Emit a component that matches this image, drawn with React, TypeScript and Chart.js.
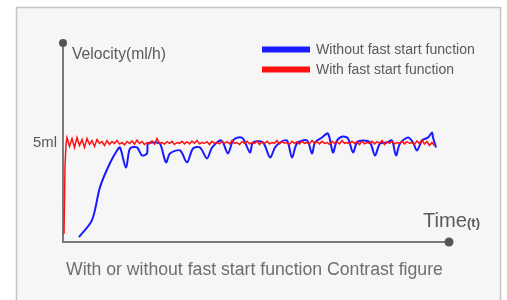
import React, { useEffect, useRef } from "react";
import { Chart, registerables } from "chart.js";

Chart.register(...registerables);

// ---- data (time units, velocity in ml/h) ----
const xMax = 386;
const yMax = 10;
const targetLabel = "5ml";
const targetValue = 5;

const blueT = [16, 29, 37, 47, 54, 57, 63, 67, 74, 79, 84, 85, 92, 97, 103, 107, 117, 124, 130, 137, 144, 149, 157, 160, 165, 170, 175, 180, 187, 190, 200, 207, 212, 217, 224, 229, 234, 244, 249, 252, 259, 265, 270, 274, 280, 285, 290, 294, 300, 307, 312, 317, 324, 329, 333, 337, 345, 350, 354, 359, 365, 369, 370, 373];
const blueV = [0.25, 1.1, 2.76, 3.97, 4.6, 4.75, 3.74, 4.7, 4.75, 4.35, 4.45, 4.95, 5.0, 4.95, 4.0, 4.45, 4.6, 4.0, 4.7, 4.75, 4.2, 4.75, 5.1, 5.0, 4.45, 5.1, 5.25, 5.2, 4.5, 5.0, 5.0, 4.25, 4.75, 5.0, 5.1, 4.25, 4.95, 5.1, 4.45, 5.0, 5.25, 5.45, 4.5, 5.1, 5.3, 5.2, 4.5, 5.0, 5.1, 5.0, 4.35, 4.95, 5.0, 5.1, 4.35, 4.95, 5.25, 5.0, 4.6, 5.1, 5.25, 5.5, 5.25, 4.75];

const redHeadT = [1, 2, 3];
const redHeadV = [0.4, 3.8, 4.9];
const redStart = 4;
const redStep = 2.5;
const redV = [
  5.25, 4.8, 5.2, 4.75, 5.25, 4.85, 5.15, 4.75, 5.2, 4.9, 5.1, 4.8, 5.15, 4.95, 5.05, 4.85, 5.1, 4.9, 5.05, 4.95,
  5.1, 4.92, 5.0, 4.88, 5.05, 4.95, 5.08, 4.92, 5.12, 4.95, 5.05, 4.9, 5.0, 4.95, 5.08, 4.92, 5.2, 4.95, 5.0, 4.92,
  5.04, 4.96, 5.06, 4.9, 5.0, 4.96, 5.06, 4.93, 5.04, 4.93, 5.07, 4.96, 5.1, 4.93, 5.0, 4.96, 5.04, 4.9, 5.06, 4.96,
  5.0, 4.93, 5.06, 4.96, 5.04, 4.93, 5.1, 4.96, 5.0, 4.9, 5.04, 4.96, 5.06, 4.93, 5.0, 4.96, 5.07, 4.9, 5.04, 4.96,
  5.06, 4.93, 5.0, 4.96, 5.1, 4.93, 5.04, 4.96, 5.0, 4.9, 5.06, 4.96, 5.04, 4.93, 5.06, 4.96, 5.0, 4.93, 5.1, 4.96,
  5.04, 4.93, 5.06, 4.96, 5.0, 4.9, 5.06, 4.96, 5.04, 4.93, 5.1, 4.96, 5.0, 4.93, 5.06, 4.96, 5.04, 4.9, 5.06, 4.93,
  5.0, 4.96, 5.06, 4.93, 5.04, 4.96, 5.1, 4.9, 5.04, 4.96, 5.06, 4.93, 5.0, 4.96, 5.06, 4.93, 5.04, 4.96, 5.0, 4.9,
  5.08, 4.95, 5.12, 4.92, 5.05, 4.85, 5.0, 4.85,
];

const seriesNames = ["Without fast start function", "With fast start function"];
const seriesColors = ["#1a1aff", "#ff1010"];
const yTitle = "Velocity(ml/h)";
const xTitle = "Time";
const xTitleUnit = "(t)";
const caption = "With or without fast start function Contrast figure";

const FONT = "'Liberation Sans', Arial, sans-serif";

function fitText(ctx: CanvasRenderingContext2D, text: string, x: number, y: number, width: number, color: string, weight = "normal") {
  ctx.font = `${weight} 20px ${FONT}`;
  const w = ctx.measureText(text).width;
  const size = (20 * width) / w;
  ctx.font = `${weight} ${size}px ${FONT}`;
  ctx.fillStyle = color;
  ctx.textAlign = "left";
  ctx.textBaseline = "middle";
  ctx.fillText(text, x, y);
}

const decor = {
  id: "decor",
  beforeDraw(chart: any) {
    const ctx = chart.ctx as CanvasRenderingContext2D;
    ctx.save();
    ctx.fillStyle = "#ffffff";
    ctx.fillRect(0, 0, chart.width, chart.height);
    ctx.fillStyle = "#f6f6f6";
    ctx.fillRect(16, 7, 485, 300);
    ctx.strokeStyle = "#c4c4c4";
    ctx.lineWidth = 1.5;
    ctx.beginPath();
    ctx.moveTo(16.5, 310);
    ctx.lineTo(16.5, 7.5);
    ctx.lineTo(500.5, 7.5);
    ctx.lineTo(500.5, 310);
    ctx.stroke();
    ctx.restore();
  },
  beforeDatasetsDraw(chart: any) {
    const ctx = chart.ctx as CanvasRenderingContext2D;
    const { left, right, top, bottom } = chart.chartArea;
    ctx.save();
    ctx.strokeStyle = "#7a7a7a";
    ctx.lineWidth = 2;
    ctx.beginPath();
    ctx.moveTo(left, top);
    ctx.lineTo(left, bottom);
    ctx.lineTo(right, bottom);
    ctx.stroke();
    const yS = chart.scales.y;
    fitText(ctx, targetLabel, 33, yS.getPixelForValue(targetValue), 24, "#5a5a5a");
    fitText(ctx, yTitle, 72, 55, 94, "#5a5a5a");
    fitText(ctx, caption, 66, 270, 377, "#6e6e6e");
    fitText(ctx, xTitle, 423, 221, 44, "#5a5a5a");
    fitText(ctx, xTitleUnit, 467, 223, 13, "#5a5a5a", "bold");
    // legend
    const rows = [49.5, 69.5];
    rows.forEach((ry, i) => {
      ctx.fillStyle = seriesColors[i];
      ctx.fillRect(262, ry - 3, 48, 6);
      fitText(ctx, seriesNames[i], 316, ry + 0.5, i === 0 ? 159 : 138, "#5a5a5a");
    });
    ctx.restore();
  },
  afterDatasetsDraw(chart: any) {
    const ctx = chart.ctx as CanvasRenderingContext2D;
    const { left, right, top, bottom } = chart.chartArea;
    ctx.save();
    ctx.fillStyle = "#555";
    ctx.beginPath();
    ctx.arc(left, top, 4, 0, Math.PI * 2);
    ctx.fill();
    ctx.beginPath();
    ctx.arc(right, bottom, 4.5, 0, Math.PI * 2);
    ctx.fill();
    ctx.restore();
  },
};

export default function App() {
  const ref = useRef<HTMLCanvasElement>(null);
  useEffect(() => {
    if (!ref.current) return;
    const blueData = blueT.map((t, i) => ({ x: t, y: blueV[i] }));
    const redData = [
      ...redHeadT.map((t, i) => ({ x: t, y: redHeadV[i] })),
      ...redV.map((v, i) => ({ x: redStart + i * redStep, y: v })),
    ];
    const chart = new Chart(ref.current, {
      type: "line",
      data: {
        datasets: [
          {
            label: seriesNames[1],
            data: redData,
            borderColor: seriesColors[1],
            borderWidth: 1.5,
            pointRadius: 0,
            tension: 0,
          },
          {
            label: seriesNames[0],
            data: blueData,
            borderColor: seriesColors[0],
            borderWidth: 2,
            pointRadius: 0,
            tension: 0.3,
          },
        ],
      },
      options: {
        responsive: false,
        animation: false,
        devicePixelRatio: 1,
        layout: { padding: { left: 63, right: 58, top: 43, bottom: 58 } },
        plugins: { legend: { display: false }, tooltip: { enabled: false } },
        scales: {
          x: { type: "linear", min: 0, max: xMax, display: false },
          y: { type: "linear", min: 0, max: yMax, display: false },
        },
      },
      plugins: [decor],
    });
    return () => chart.destroy();
  }, []);
  return (
    <div style={{ position: "absolute", left: 0, top: 0, width: 507, height: 300 }}>
      <canvas ref={ref} width={507} height={300} style={{ width: 507, height: 300 }} />
    </div>
  );
}
